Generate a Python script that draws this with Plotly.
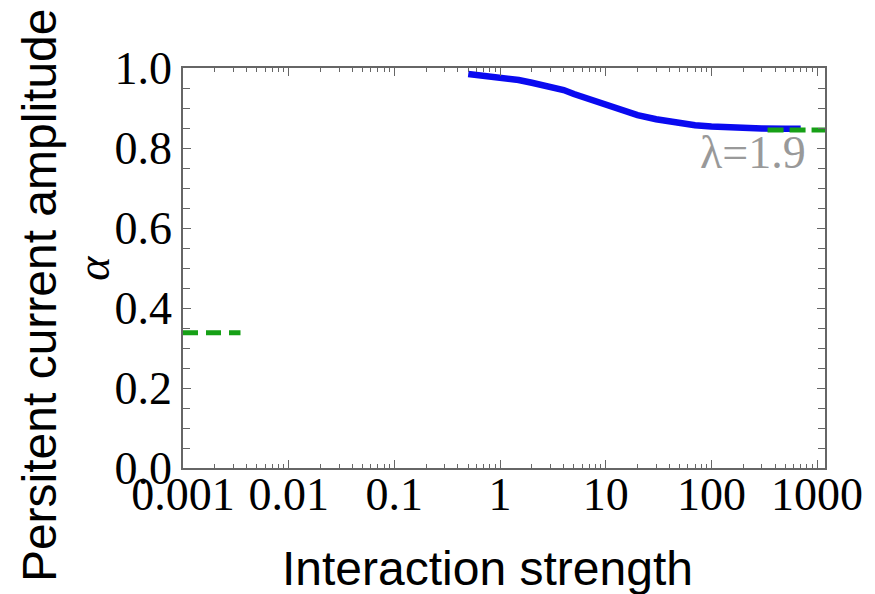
import plotly.graph_objects as go

# Persistent current amplitude vs. interaction strength
interaction = [0.5, 0.7, 1, 1.5, 2, 3, 4, 5, 7, 10, 15, 20, 30, 50, 70,
               100, 150, 200, 300, 500, 700]
amplitude = [0.985, 0.981, 0.977, 0.970, 0.963, 0.953, 0.945, 0.935, 0.922,
             0.908, 0.892, 0.882, 0.872, 0.862, 0.857, 0.854, 0.851, 0.850,
             0.849, 0.848, 0.848]

# Asymptotic limits (weak and strong interaction)
weak_x = [0.001, 0.0035]
weak_y = [0.338, 0.338]
strong_x = [340, 1200]
strong_y = [0.845, 0.845]

x_ticks = [0.001, 0.01, 0.1, 1, 10, 100, 1000]
x_ticklabels = ["0.001", "0.01", "0.1", "1", "10", "100", "1000"]
y_ticks = [0.0, 0.2, 0.4, 0.6, 0.8, 1.0]
y_ticklabels = ["0.0", "0.2", "0.4", "0.6", "0.8", "1.0"]

BLUE = "#0a0af0"
GREEN = "#16a016"
AXIS = "#666666"
SERIF = "Liberation Serif, Times New Roman, serif"
SANS = "Liberation Sans, Arial, sans-serif"

fig = go.Figure()
fig.add_trace(go.Scatter(x=interaction, y=amplitude, mode="lines",
                         line=dict(color=BLUE, width=6.5), hoverinfo="skip"))
fig.add_trace(go.Scatter(x=weak_x, y=weak_y, mode="lines",
                         line=dict(color=GREEN, width=5, dash="15px,8px"),
                         hoverinfo="skip"))
fig.add_trace(go.Scatter(x=strong_x, y=strong_y, mode="lines",
                         line=dict(color=GREEN, width=5, dash="16px,6px"),
                         hoverinfo="skip"))

fig.update_xaxes(
    type="log", range=[-3, 3.075],
    tickvals=x_ticks, ticktext=x_ticklabels,
    ticks="inside", ticklen=8, tickwidth=1.3, tickcolor=AXIS,
    minor=dict(ticks="inside", ticklen=4, tickwidth=1, tickcolor=AXIS,
               dtick="D1", showgrid=False),
    showline=True, linecolor=AXIS, linewidth=1.5, mirror="ticks",
    showgrid=False, zeroline=False,
    ticklabelstandoff=-15,
    tickfont=dict(family=SERIF, size=46, color="black"),
)
fig.update_yaxes(
    range=[0, 1],
    tickvals=y_ticks, ticktext=y_ticklabels,
    ticks="inside", ticklen=8, tickwidth=1.3, tickcolor=AXIS,
    minor=dict(ticks="inside", ticklen=7, tickwidth=1, tickcolor=AXIS,
               dtick=0.05, showgrid=False),
    showline=True, linecolor=AXIS, linewidth=1.5, mirror="ticks",
    showgrid=False, zeroline=False,
    tickfont=dict(family=SERIF, size=46, color="black"),
)

fig.add_annotation(text="λ=1.9", xref="paper", yref="paper",
                   x=(757 - 183) / 647, y=(468 - 152) / 400,
                   xanchor="center", yanchor="middle", showarrow=False,
                   font=dict(family=SERIF, size=46, color="#999999"))

# Axis titles
fig.add_annotation(text="Interaction strength", xref="paper", yref="paper",
                   x=(490 - 183) / 647, y=-(568 - 468) / 400,
                   xanchor="center", yanchor="middle", showarrow=False,
                   font=dict(family=SANS, size=48, color="black"))
fig.add_annotation(text="Persitent current amplitude", xref="paper", yref="paper",
                   x=-(183 - 38) / 647, y=(468 - 295) / 400, textangle=-90,
                   xanchor="center", yanchor="middle", showarrow=False,
                   font=dict(family=SANS, size=48, color="black"))
fig.add_annotation(text="<i>α</i>", xref="paper", yref="paper",
                   x=-(183 - 92) / 647, y=0.5, textangle=-90,
                   xanchor="center", yanchor="middle", showarrow=False,
                   font=dict(family=SERIF, size=46, color="black"))

fig.update_layout(
    width=875, height=594,
    margin=dict(l=183, r=45, t=68, b=126),
    paper_bgcolor="white", plot_bgcolor="white",
    showlegend=False,
)

fig.write_html("out.html")
